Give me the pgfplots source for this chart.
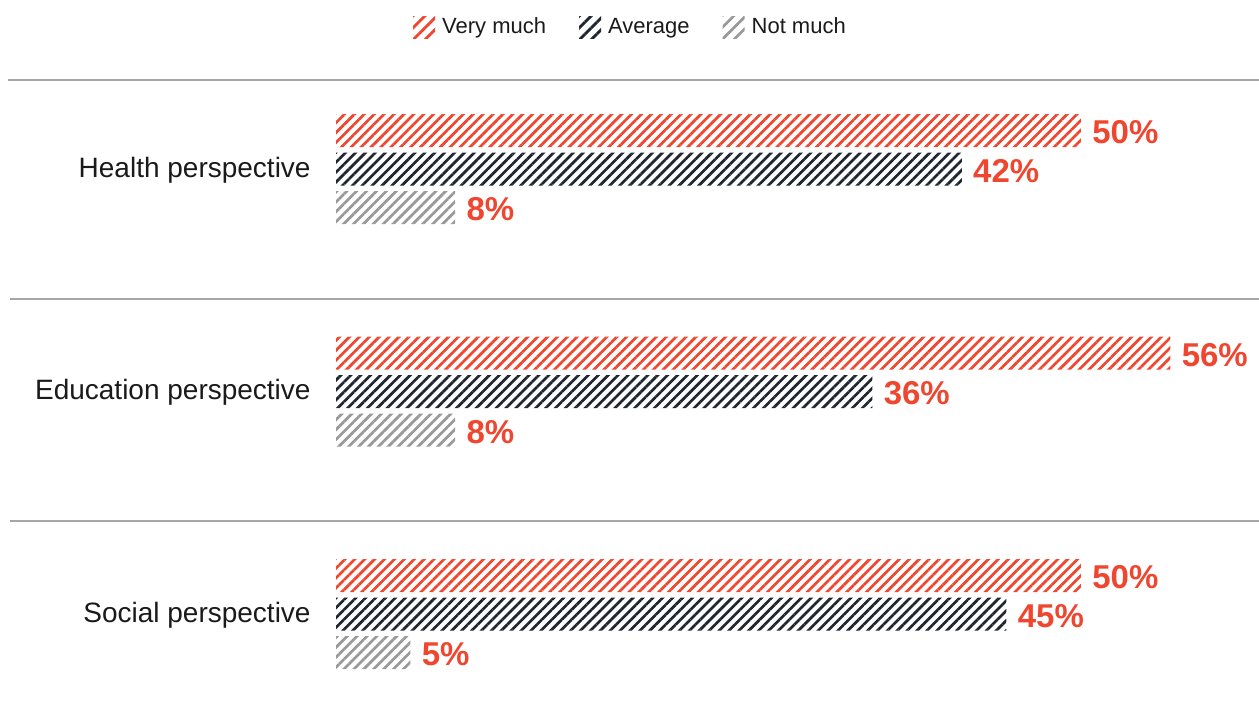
\documentclass[border=0pt]{standalone}
\usepackage{fontspec}
\setmainfont{Liberation Sans}
\usepackage{pgfplots}
\pgfplotsset{compat=1.18}
\usetikzlibrary{patterns.meta}
\definecolor{cred}{HTML}{EF4630}
\definecolor{cdark}{HTML}{1F2630}
\definecolor{cgray}{HTML}{999999}
\definecolor{csep}{HTML}{A6A6A6}
\definecolor{ctext}{HTML}{1A1A1A}
\pgfplotsset{
  hatchlegend/.style={legend image code/.code={\path[##1,draw=none,pattern={Lines[angle=45, distance=4.2bp, line width=1.4bp]}] (0bp,-5.5bp) rectangle (11bp,5.5bp);}},
}
\begin{document}
\begin{tikzpicture}
\useasboundingbox (0,0) rectangle (629.5bp,-363bp);
\draw[csep, line width=0.6bp] (4bp,-40bp) -- (629.5bp,-40bp);
\draw[csep, line width=0.6bp] (5bp,-149.5bp) -- (629.5bp,-149.5bp);
\draw[csep, line width=0.6bp] (5bp,-260.5bp) -- (629.5bp,-260.5bp);
\begin{axis}[
  at={(168bp,-363bp)}, anchor=south west,
  scale only axis, width=461.5bp, height=323bp,
  xmin=0, xmax=61.95, ymin=-0.503, ymax=2.4,
  axis line style={draw=none},
  tick style={draw=none},
  major tick length=0pt,
  xtick=\empty,
  ytick={0,1,2},
  yticklabels={Social perspective, Education perspective, Health perspective},
  yticklabel style={font=\fontsize{14bp}{16bp}\selectfont, text=ctext, anchor=east, inner sep=0pt, xshift=-12.5bp, yshift=-0.5bp},
  clip=false,
  point meta=x,
  nodes near coords={\bfseries\pgfmathprintnumber{\pgfplotspointmeta}\%},
  /pgf/number format/assume math mode=true,
  every node near coord/.append style={font=\fontsize{16.5bp}{18bp}\selectfont\bfseries, text=cred, anchor=west, inner sep=0pt, xshift=5.5bp, yshift=-1bp},
  legend columns=3,
  legend style={at={(0.3185,1.082)}, anchor=center, draw=none, fill=none,
    font=\fontsize{11bp}{13bp}\selectfont, text=ctext,
    /tikz/every even column/.append style={column sep=16bp},
    /tikz/every odd column/.append style={column sep=3bp},
    nodes={inner sep=0.5bp}},
]
\addplot[xbar, bar width=16.5bp, bar shift=19.25bp, draw=none,
  pattern={Lines[angle=45, distance=3.5bp, line width=1.35bp]}, pattern color=cred, hatchlegend,
  every node near coord/.append style={yshift=19.25bp}]
  coordinates {(50,2) (56,1) (50,0)};
\addlegendentry{Very much}
\addplot[xbar, bar width=16.5bp, bar shift=0bp, draw=none,
  pattern={Lines[angle=45, distance=3.5bp, line width=1.35bp]}, pattern color=cdark, hatchlegend]
  coordinates {(42,2) (36,1) (45,0)};
\addlegendentry{Average}
\addplot[xbar, bar width=16.5bp, bar shift=-19.25bp, draw=none,
  pattern={Lines[angle=45, distance=3.5bp, line width=1.35bp]}, pattern color=cgray, hatchlegend,
  every node near coord/.append style={yshift=-19.25bp}]
  coordinates {(8,2) (8,1) (5,0)};
\addlegendentry{Not much}
\end{axis}
\end{tikzpicture}
\end{document}
